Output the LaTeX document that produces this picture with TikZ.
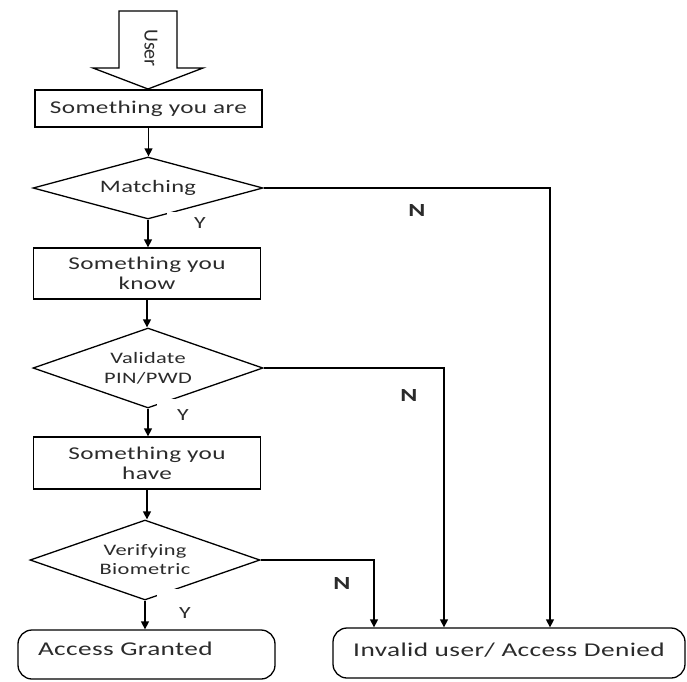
\documentclass[tikz,border=0pt]{standalone}
\usepackage{fontspec}
\setmainfont{Carlito}[FakeStretch=1.4,LetterSpace=2]
\newfontfamily\userfont{Carlito}
\usetikzlibrary{shapes.geometric,arrows.meta}
\definecolor{txt}{HTML}{2B2B2B}
\tikzset{
 ln/.style={line width=1.3pt, draw=black},
 arr/.style={ln, -{Triangle[width=8pt,length=8pt]}},
 procbox/.style={ln, rectangle, minimum width=227pt, inner sep=0pt, align=center, text=txt, font=\fontsize{18}{20}\selectfont},
 decide/.style={ln, diamond, minimum width=230pt, inner sep=0pt, align=center, text=txt},
 termbox/.style={ln, rectangle, rounded corners=14pt, inner sep=0pt, text=txt, font=\fontsize{19.5}{21}\selectfont},
 ylab/.style={fill=white, inner sep=0pt, anchor=base, text=txt, font=\fontsize{17}{17}\selectfont},
 nlab/.style={text=txt, font=\bfseries\fontsize{18.5}{20}\selectfont},
}
\begin{document}
\begin{tikzpicture}[x=1pt,y=-1pt]
\useasboundingbox[fill=white] (0,0) rectangle (687,681);

% User block arrow
\draw[ln] (119,11) -- (177,11) -- (177,68) -- (203,68) -- (148,89) -- (93,68) -- (119,68) -- cycle;
\node[rotate=-90, text=txt, font=\userfont\fontsize{20}{20}\selectfont] (user) at (151,48) {User};

% process boxes and decisions
\node[procbox, minimum height=37pt] (b1) at (148.5,108.5) {Something you are};
\node[decide, aspect=3.7, minimum height=62pt, font=\fontsize{17.5}{20}\selectfont] (d1) at (148,188) {Matching};
\node[procbox, minimum height=51pt] (b2) at (147,273.5) {Something you\\know};
\node[decide, aspect=2.875, minimum height=80pt, font=\fontsize{16}{20}\selectfont] (d2) at (148,368) {Validate\\PIN/PWD};
\node[procbox, minimum height=52pt] (b3) at (147,463) {Something you\\have};
\node[decide, aspect=2.875, minimum height=80pt, font=\fontsize{16}{19}\selectfont] (d3) at (145,560) {Verifying\\Biometric};

% terminals
\node[termbox, text width=217pt, inner xsep=20pt, align=left, text depth=12pt, minimum height=49pt] (grant) at (146.5,654.5) {Access Granted};
\node[termbox, minimum width=352pt, minimum height=50pt, text depth=6pt] (inv) at (509,653) {Invalid user/ Access Denied};

% yes connectors
\draw[arr] (b1.south) -- (b1.south |- d1.north);
\draw[arr] (d1.south) -- (d1.south |- b2.north);
\draw[arr] (b2.south) -- (b2.south |- d2.north);
\draw[arr] (d2.south) -- (d2.south |- b3.north);
\draw[arr] (b3.south) -- (b3.south |- d3.north);
\draw[arr] (d3.south) -- (d3.south |- grant.north);

% no connectors
\draw[arr] (d1.east) -| ([xshift=41pt]inv.north);
\draw[arr] (d2.east) -| ([xshift=-65pt]inv.north);
\draw[arr] (d3.east) -| ([xshift=-135pt]inv.north);

% Y labels (white boxes break the diamond edges)
\node[ylab, text height=16pt, text depth=2pt, minimum width=66pt] (y1) at (200,228) {Y};
\node[ylab, text height=21pt, text depth=2pt, minimum width=52pt] (y2) at (183,420) {Y};
\node[ylab, text height=29pt, text depth=2pt, minimum width=56pt] (y3) at (185,618) {Y};

% N labels
\node[nlab] (n1) at (417,210) {N};
\node[nlab] (n2) at (409,395) {N};
\node[nlab] (n3) at (342,583) {N};
\end{tikzpicture}
\end{document}
